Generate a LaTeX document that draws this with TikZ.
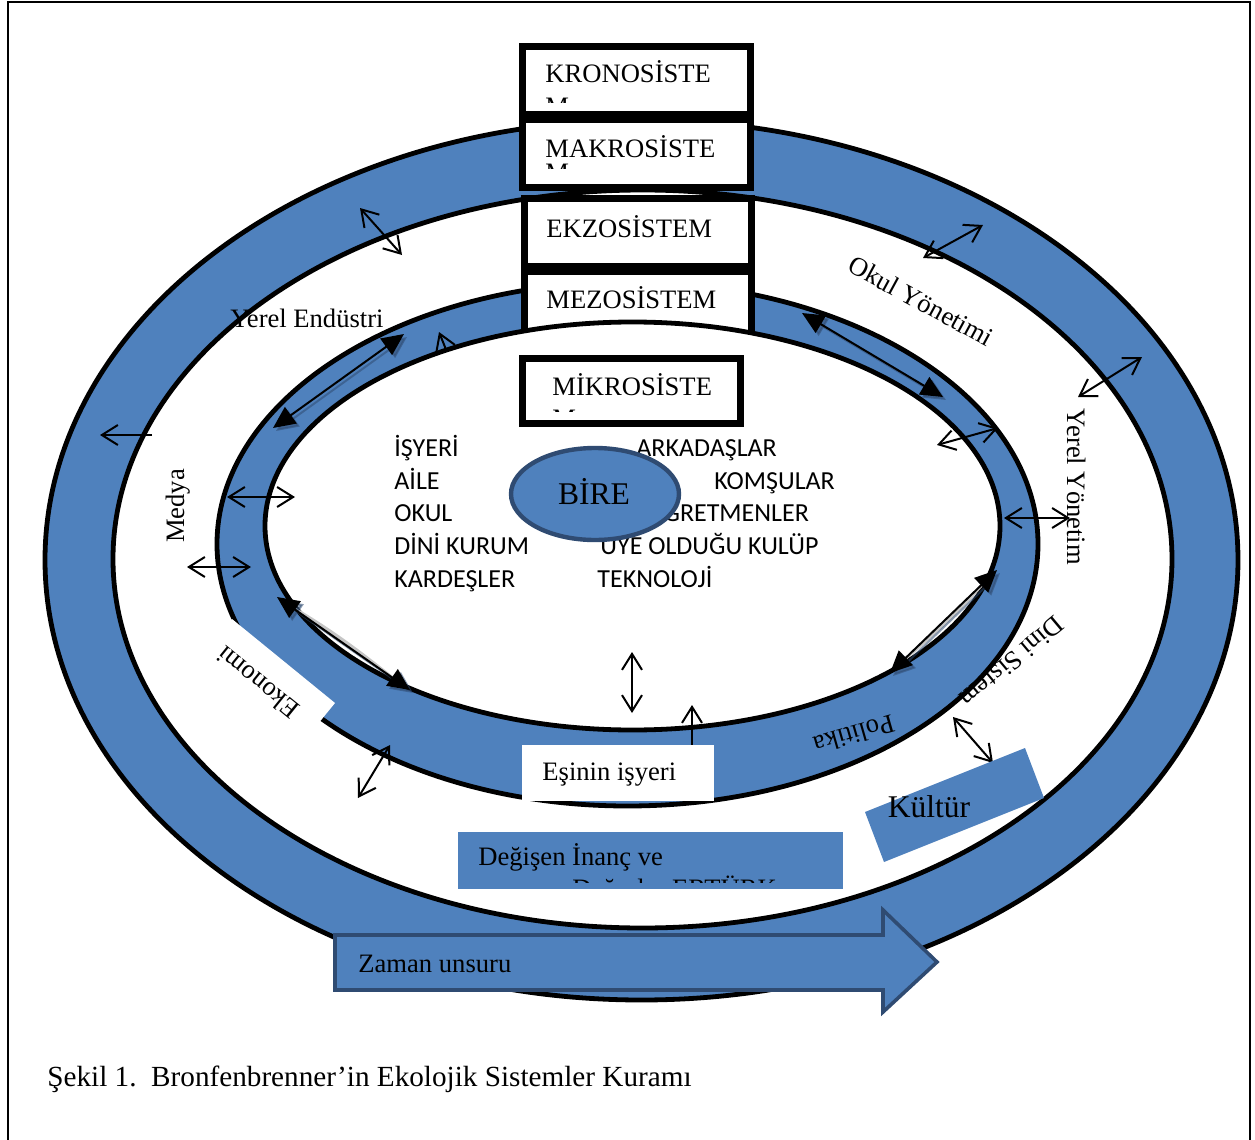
\documentclass[tikz,border=0pt]{standalone}
\usepackage{fontspec}
\setmainfont{Liberation Serif}
\newfontfamily\calfont{Carlito}
\usetikzlibrary{arrows.meta}
\definecolor{ringblue}{HTML}{4F81BD}
\definecolor{navyline}{HTML}{2F4B72}
\begin{document}
\begin{tikzpicture}[x=0.5pt,y=-0.5pt,
  ringline/.style={line width=2.4pt,draw=black},
  boxline/.style={line width=3.5pt,draw=black,fill=white},
  lab/.style={inner sep=0pt,font=\fontsize{13.3}{16}\selectfont},
  listtxt/.style={inner sep=0pt,anchor=base west,font=\calfont\fontsize{13}{16}\selectfont},
  dbl/.style={line width=1pt,{Straight Barb[length=8pt,width=10pt,line width=1pt]}-{Straight Barb[length=8pt,width=10pt,line width=1pt]}},
  sgl/.style={line width=1pt,-{Straight Barb[length=8pt,width=10pt,line width=1pt]}},
  thick2/.style={line width=1pt,{Triangle[length=11pt,width=10pt]}-{Triangle[length=11pt,width=10pt]}},
  shad/.style={line width=1pt,draw=navyline,opacity=0.55,{Triangle[length=11pt,width=10pt]}-{Triangle[length=11pt,width=10pt]}}
]
\useasboundingbox (0,0) rectangle (1255,1140);
% frame
\draw[line width=1pt] (8,1140) -- (8,2) -- (1250,2) -- (1250,1140);

% outer ring
\draw[ringline,fill=ringblue] (641.5,560) ellipse [x radius=596.5, y radius=440];
\draw[ringline,fill=white] (642.5,559) ellipse [x radius=529.5, y radius=369];

% thin arrows in the outer zone
\coordinate (a1) at (360,208); \coordinate (a2) at (402,255);
\coordinate (b1) at (923,258); \coordinate (b2) at (983,225);
\coordinate (c1) at (1078,397); \coordinate (c2) at (1142,357);
\coordinate (f1) at (152,435); \coordinate (f2) at (100,435);
\draw[dbl] (a1) -- (a2);
\draw[dbl] (b1) -- (b2);
\draw[dbl] (c1) -- (c2);
\draw[sgl] (f1) -- (f2);

% top boxes
\draw[boxline] (522.5,46.5) rectangle (750.5,114.5);
\begin{scope}
\clip (526,50) rectangle (747,102);
\node[lab,anchor=base west] (kron) at (545,83) {KRONOSİSTE};
\node[lab,anchor=base west] (kronm) at (545,115) {M};
\end{scope}
\draw[boxline] (522.5,119.5) rectangle (750.5,187.5);
\begin{scope}
\clip (526,123) rectangle (747,168);
\node[lab,anchor=base west] (makr) at (545,157) {MAKROSİSTE};
\node[lab,anchor=base west] (makrm) at (545,181) {M};
\end{scope}
\draw[boxline] (524.5,198.5) rectangle (751.5,266.5);
\node[lab,anchor=base west] (ekzo) at (546,237) {EKZOSİSTEM};

% middle ring
\draw[ringline,fill=ringblue] (627.5,544) ellipse [x radius=410.5, y radius=262];
\draw[boxline] (524.5,271.5) rectangle (751.5,345);
\node[lab,anchor=base west] (mezo) at (546,308) {MEZOSİSTEM};
\coordinate (m1) at (447,352); \coordinate (m2) at (439,332);
\draw[sgl] (m1) -- (m2);
\draw[ringline,fill=white] (632.5,526) ellipse [x radius=367.5, y radius=204];

% lenses
\fill[gray!45] (282,600) .. controls (330,626) and (368,656) .. (405,686) -- cycle;
\fill[gray!45] (993,574) .. controls (962,612) and (930,640) .. (894,670) -- cycle;

% thick arrows
\coordinate (t1a) at (273,428); \coordinate (t1b) at (404,334);
\coordinate (t2a) at (802,313); \coordinate (t2b) at (943,397);
\coordinate (t3a) at (277,597); \coordinate (t3b) at (410,690);
\coordinate (t4a) at (997,570); \coordinate (t4b) at (890,673);
\foreach \p/\q in {t1a/t1b,t2a/t2b,t3a/t3b,t4a/t4b}{
  \draw[shad] ([xshift=1.5pt,yshift=-1.5pt]\p) -- ([xshift=1.5pt,yshift=-1.5pt]\q);
  \draw[thick2] (\p) -- (\q);
}

% Ekonomi white box
\fill[white] (232,619) -- (335,703) -- (291,757) -- (188,673) -- cycle;
\node[lab,rotate=141] (ekon) at (258,683) {Ekonomi};

% Esinin isyeri box
\coordinate (l1) at (692,752); \coordinate (l2) at (692,705);
\draw[sgl] (l1) -- (l2);
\fill[white] (522,745) rectangle (714,801);
\node[lab,anchor=base west] (esin) at (542,780) {Eşinin işyeri};

% remaining thin arrows
\coordinate (d1) at (937,445); \coordinate (d2) at (998,428);
\coordinate (e1) at (1004,518); \coordinate (e2) at (1070,518);
\coordinate (g1) at (227,497); \coordinate (g2) at (295,497);
\coordinate (h1) at (187,567); \coordinate (h2) at (251,567);
\coordinate (i1) at (358,798); \coordinate (i2) at (390,745);
\coordinate (j1) at (953,717); \coordinate (j2) at (993,763);
\coordinate (k1) at (632,652); \coordinate (k2) at (632,713);
\draw[dbl] (d1) -- (d2);
\draw[dbl] (g1) -- (g2);
\draw[dbl] (h1) -- (h2);
\draw[dbl] (i1) -- (i2);
\draw[dbl] (j1) -- (j2);
\draw[dbl] (k1) -- (k2);

% mikro box
\draw[boxline] (522.5,358.5) rectangle (740.5,423.5);
\begin{scope}
\clip (526,362) rectangle (737,411);
\node[lab,anchor=base west] (mikr) at (552,395) {MİKROSİSTE};
\node[lab,anchor=base west] (mikrm) at (552,427) {M};
\end{scope}

% list
\node[listtxt] (w1) at (394,456) {İŞYERİ};
\node[listtxt] (w2) at (394,489) {AİLE};
\node[listtxt] (w3) at (394,521) {OKUL};
\node[listtxt] (w4) at (394,554) {DİNİ KURUM};
\node[listtxt] (w5) at (394,587) {KARDEŞLER};
\node[listtxt] (r1) at (636,456) {ARKADAŞLAR};
\node[listtxt] (r2) at (714,489) {KOMŞULAR};
\node[listtxt] (r3) at (646,521) {ÖĞRETMENLER};
\node[listtxt] (r4) at (600,554) {ÜYE OLDUĞU KULÜP};
\node[listtxt] (r5) at (597,587) {TEKNOLOJİ};

% BIRE
\draw[line width=2.2pt,draw=navyline,fill=ringblue] (595,494) ellipse [x radius=84, y radius=46];
\node[inner sep=0pt,anchor=base,font=\fontsize{15.8}{18}\selectfont] (bire) at (594,504) {BİRE};

% labels
\node[lab,anchor=base west] (yend) at (230,327) {Yerel Endüstri};
\node[lab,rotate=-28.5] (okul) at (921,301) {Okul Yönetimi};
\node[lab,rotate=-90] (yyon) at (1077,487) {Yerel Yönetim};
\draw[dbl] (e1) -- (e2);
\node[lab,rotate=90] (medya) at (178,506) {Medya};
\node[lab,rotate=220] (dini) at (1012,662) {Dini Sistem};
\node[lab,rotate=196] (poli) at (854,735) {Politika};

% Kultur
\fill[ringblue] (865,812) -- (1025,748) -- (1044,798) -- (884,862) -- cycle;
\node[inner sep=0pt,anchor=base,font=\fontsize{15.8}{18}\selectfont] (kult) at (929,817) {Kültür};

% Degisen
\fill[ringblue] (458,832) rectangle (843,889);
\begin{scope}
\clip (458,832) rectangle (843,882);
\node[lab,anchor=base west] (degi) at (478,865) {Değişen İnanç ve};
\node[lab,anchor=base west] (degi2) at (572,897) {Değerler ERTÜRK};
\end{scope}

% Zaman arrow
\draw[line width=1.8pt,draw=navyline,fill=ringblue] (335,935) -- (883,935) -- (883,910) -- (937,962) -- (883,1012) -- (883,990) -- (335,990) -- cycle;
\node[lab,anchor=base west] (zaman) at (358,972) {Zaman unsuru};

% caption
\node[inner sep=0pt,anchor=base west,font=\fontsize{14.6}{17}\selectfont] (cap) at (47,1086) {Şekil 1.\ \ Bronfenbrenner’in Ekolojik Sistemler Kuramı};
\end{tikzpicture}
\end{document}
